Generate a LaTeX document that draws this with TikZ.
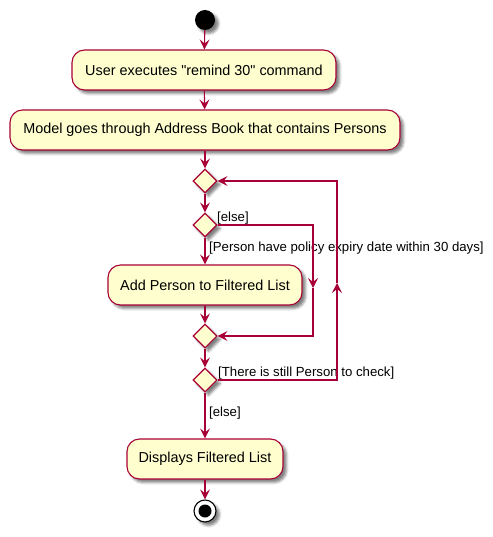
\documentclass[tikz,border=0pt]{standalone}
\usepackage{fontspec}
\setmainfont{Liberation Sans}
\usetikzlibrary{shapes.geometric,arrows.meta,shadows.blur}
\definecolor{umlred}{HTML}{A80036}
\definecolor{umlfill}{HTML}{FEFECE}

\begin{document}
\begin{tikzpicture}[
  x=1pt, y=-1pt,
  shade/.style={blur shadow={shadow xshift=3.5pt, shadow yshift=-3.5pt, shadow opacity=50, shadow blur radius=2.5pt}},
  act/.style={rectangle, draw=umlred, line width=1.1pt, fill=umlfill, rounded corners=12.5pt, minimum width=#1, minimum height=40pt, inner xsep=8pt, align=center, font=\fontsize{14.4}{17}\selectfont, shade},
  branch/.style={diamond, draw=umlred, line width=1.1pt, fill=umlfill, minimum width=24pt, minimum height=24pt, inner sep=0pt, shade},
  startnode/.style={circle, fill=black, minimum size=20pt, inner sep=0pt, shade},
  stopnode/.style={circle, draw=black, line width=1.1pt, fill=white, minimum size=22pt, inner sep=0pt, shade,
    path picture={\fill[black] (path picture bounding box.center) circle (6.5pt);}},
  guard/.style={font=\fontsize{13.2}{15}\selectfont, inner sep=0pt},
  flow/.style={-{Stealth[length=10pt, width=10pt, inset=4pt]}, line width=1.1pt, umlred}
]
  \useasboundingbox (0,0) rectangle (492,537);

  \node[startnode] (start) at (205,20) {};
  \node[act=264pt] (cmd) at (204,70) {User executes \textquotedbl{}remind 30\textquotedbl{} command};
  \node[act=390pt] (scan) at (205,130) {Model goes through Address Book that contains Persons};
  \node[branch] (loop) at (205,181) {};
  \node[branch] (check) at (205,225) {};
  \node[act=194pt] (add) at (205,285) {Add Person to Filtered List};
  \node[branch] (merge) at (205,336) {};
  \node[branch] (again) at (205,380) {};
  \node[act=156pt] (show) at (205,459) {Displays Filtered List};
  \node[stopnode] (stop) at (205,511) {};

  % guards
  \node[guard, anchor=west] (elselbl) at (217,218) {[else]};
  \node[guard, anchor=west] (condlbl) at (209,248) {[Person have policy expiry date within 30 days]};
  \node[guard, anchor=west] (looplbl) at (218,373) {[There is still Person to check]};
  \node[guard, anchor=west] (exitlbl) at (209,413) {[else]};

  % bends of the side lines
  \coordinate (elsetop) at (313,225);
  \coordinate (elsemid) at (313,288);
  \coordinate (elsebot) at (313,336);
  \coordinate (backbot) at (337,380);
  \coordinate (backmid) at (337,283);
  \coordinate (backtop) at (337,181);

  \draw[flow] (start) -- (cmd);
  \draw[flow] (cmd) -- (scan);
  \draw[flow] (scan) -- (loop);
  \draw[flow] (loop) -- (check);
  \draw[flow] (check) -- (add);
  \draw[flow] (add) -- (merge);
  \draw[flow] (merge) -- (again);
  \draw[flow] (again) -- (show);
  \draw[flow] (show) -- (stop);

  \draw[flow] (check.east) -- (elsetop) -- (elsemid);
  \draw[flow] (elsemid) -- (elsebot) -- (merge.east);
  \draw[flow] (again.east) -- (backbot) -- (backmid);
  \draw[flow] (backmid) -- (backtop) -- (loop.east);
\end{tikzpicture}
\end{document}
